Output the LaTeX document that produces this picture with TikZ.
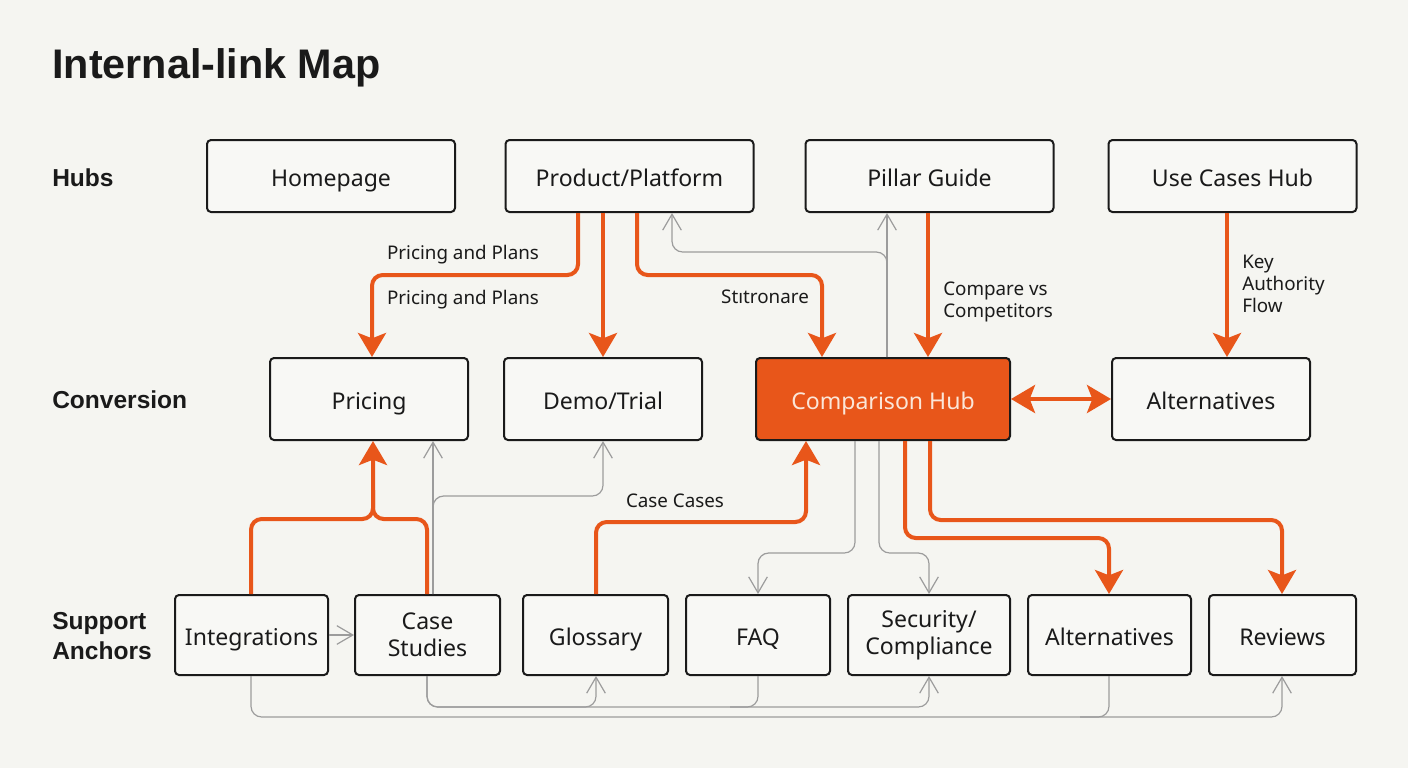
\documentclass[tikz,border=0pt]{standalone}
\usepackage{fontspec}
\setmainfont{Noto Sans}
\newfontfamily\headfont{Liberation Sans}
\usetikzlibrary{arrows.meta}
\definecolor{bg}{HTML}{F5F5F1}
\definecolor{boxbg}{HTML}{F8F8F5}
\definecolor{org}{HTML}{E8561A}
\definecolor{ink}{HTML}{1A1A1A}
\definecolor{gr}{HTML}{9C9C9C}
\definecolor{lighttext}{HTML}{FBE6D8}
\begin{document}
\begin{tikzpicture}[x=0.75pt,y=-0.75pt,
  box/.style={draw=ink, line width=1.5pt, rounded corners=3pt, fill=boxbg, align=center,
    font=\fontsize{17.3}{20}\selectfont, text=ink, inner sep=0pt, text height=16pt, text depth=1pt},
  two/.style={text height={}, text depth={}},
  hub/.style={box, minimum width=186pt, minimum height=54pt},
  conv/.style={box, minimum width=148.5pt, minimum height=61.5pt},
  sup/.style={box, minimum height=60pt},
  rowlabel/.style={anchor=west, font=\headfont\fontsize{18.4}{22}\selectfont\bfseries, text=ink, align=left, inner sep=0pt},
  lab/.style={font=\fontsize{14.1}{16}\selectfont, text=ink, inner sep=0pt},
  ol/.style={draw=org, line width=3pt, rounded corners=8pt},
  oa/.style={ol, -{Stealth[length=18pt,width=21pt,inset=4pt]}},
  gl/.style={draw=gr, line width=0.9pt, rounded corners=8pt},
  ga/.style={gl, -{Straight Barb[length=12pt,width=14pt]}}
]
\fill[bg] (0,0) rectangle (1408,768);
\useasboundingbox (0,0) rectangle (1408,768);

% title and row labels
\node[anchor=west, font=\headfont\fontsize{31}{36}\selectfont\bfseries, text=ink, inner sep=0pt] (title) at (52,68) {Internal-link Map};
\node[rowlabel] (rhubs) at (52,178) {Hubs};
\node[rowlabel] (rconv) at (52,400) {Conversion};
\node[rowlabel] (rsup) at (52,636) {Support\\Anchors};

% hubs
\node[hub] (home) at (331,176) {Homepage};
\node[hub] (prod) at (629.5,176) {Product/Platform};
\node[hub] (pillar) at (929.5,176) {Pillar Guide};
\node[hub] (usec) at (1232.5,176) {Use Cases Hub};

% conversion
\node[conv] (pricing) at (369,399) {Pricing};
\node[conv] (demo) at (603,399) {Demo/Trial};
\node[conv, minimum width=190.5pt, fill=org, text=lighttext] (comp) at (883,399) {Comparison Hub};
\node[conv] (alt1) at (1211,399) {Alternatives};

% support
\node[sup, minimum width=114.75pt] (integ) at (251.5,635) {Integrations};
\node[sup, two, minimum width=108.75pt] (case) at (427.5,635) {Case\\Studies};
\node[sup, minimum width=108.75pt] (gloss) at (595.5,635) {Glossary};
\node[sup, minimum width=108pt] (faq) at (758,635) {FAQ};
\node[sup, two, minimum width=121.5pt] (sec) at (929,635) {Security/\\Compliance};
\node[sup, minimum width=122.25pt] (alt2) at (1109.5,635) {Alternatives};
\node[sup, minimum width=110.25pt] (rev) at (1282.5,635) {Reviews};

% labels
\node[lab] (l1) at (463,255) {Pricing and Plans};
\node[lab] (l2) at (463,300) {Pricing and Plans};
\node[lab] (l3) at (765,297) {Stıtronare};
\node[lab, anchor=west, align=left] (l4) at (943,302) {Compare vs\\Competitors};
\node[lab, anchor=west, align=left, font=\fontsize{14.1}{16.5}\selectfont] (l5) at (1242,284) {Key\\Authority\\Flow};
\node[lab] (l6) at (675,501) {Case Cases};

% gray connectors (under)
\draw[ga] (887,0 |- comp.north) -- (887,0 |- pillar.south);
\draw[ga] (887,0 |- comp.north) -- (887,252) -- (672,252) -- (672,0 |- prod.south);
\draw[ga] (433,0 |- case.north) -- (433,0 |- pricing.south);
\draw[ga] (433,0 |- case.north) -- (433,496) -- (603,496) -- (603,0 |- demo.south);
\draw[ga] (855,0 |- comp.south) -- (855,553) -- (758,553) -- (758,0 |- faq.north);
\draw[ga] (879,0 |- comp.south) -- (879,553) -- (929,553) -- (929,0 |- sec.north);
\draw[ga] (integ.east) -- (case.west);
\draw[ga] (251,0 |- integ.south) -- (251,717) -- (1282,717) -- (1282,0 |- rev.south);
\draw[gl] (1109,0 |- alt2.south) -- (1109,717) -- (1080,717);
\draw[ga] (427,0 |- case.south) -- (427,707) -- (596,707) -- (596,0 |- gloss.south);
\draw[ga] (427,0 |- case.south) -- (427,707) -- (929,707) -- (929,0 |- sec.south);
\draw[gl] (758,0 |- faq.south) -- (758,707) -- (730,707);

% orange connectors
\draw[oa] (578,0 |- prod.south) -- (578,275) -- (372,275) -- (372,0 |- pricing.north);
\draw[oa] (603,0 |- prod.south) -- (603,0 |- demo.north);
\draw[oa] (637,0 |- prod.south) -- (637,275) -- (822,275) -- (822,0 |- comp.north);
\draw[oa] (928,0 |- pillar.south) -- (928,0 |- comp.north);
\draw[oa] (1227,0 |- usec.south) -- (1227,0 |- alt1.north);
\draw[ol, {Stealth[length=18pt,width=21pt,inset=4pt]}-{Stealth[length=18pt,width=21pt,inset=4pt]}] (comp.east) -- (alt1.west);
\draw[oa] (251,0 |- integ.north) -- (251,519) -- (373,519) -- (373,0 |- pricing.south);
\draw[ol] (427,0 |- case.north) -- (427,519) -- (373,519) -- (373,490);
\draw[oa] (596,0 |- gloss.north) -- (596,522) -- (806,522) -- (806,0 |- comp.south);
\draw[oa] (905,0 |- comp.south) -- (905,538) -- (1109,538) -- (1109,0 |- alt2.north);
\draw[oa] (930,0 |- comp.south) -- (930,520) -- (1282,520) -- (1282,0 |- rev.north);
\end{tikzpicture}
\end{document}
